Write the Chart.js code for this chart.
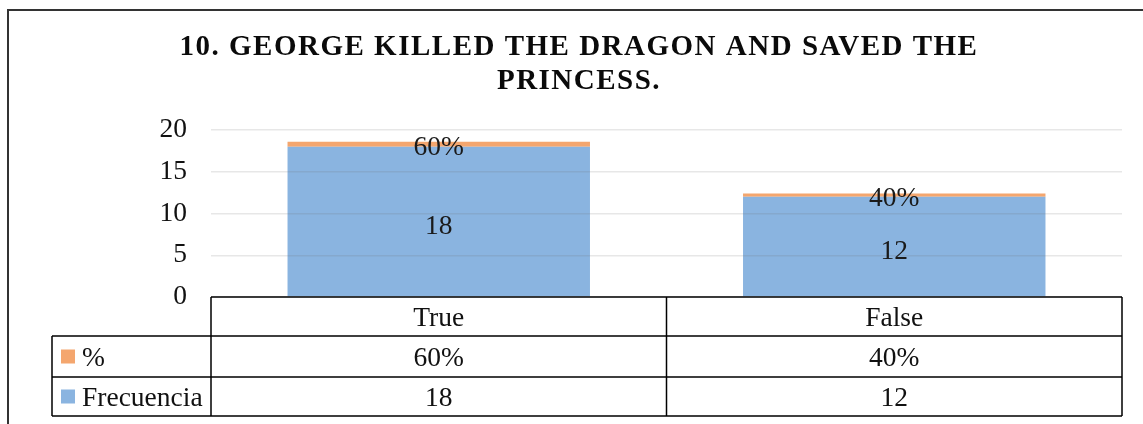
<!DOCTYPE html>
<html>
<head>
<meta charset="utf-8">
<script src="https://cdn.jsdelivr.net/npm/chart.js@4"></script>
<style>
  html, body { margin: 0; padding: 0; background: #fff; }
  #wrap { width: 1143px; height: 424px; }
</style>
</head>
<body>
<div id="wrap"><canvas id="chart" width="1143" height="424"></canvas></div>
<script>
// chart data
const categories = ['True', 'False'];
const frecuencia = [18, 12];
const percent = [0.6, 0.4];
const percentLabels = ['60%', '40%'];
const yTicks = [0, 5, 10, 15, 20];
const titleLines = ['10. GEORGE KILLED THE DRAGON AND SAVED THE', 'PRINCESS.'];

const BLUE = '#8AB4E0';
const ORANGE = '#F4A66E';
const FONT = "'Liberation Serif', 'Times New Roman', serif";
const TEXT_SIZE = 27.5;

// title, labels on bars, data table and frame
const extras = {
  id: 'extras',
  afterDraw(chart) {
    const ctx = chart.ctx;
    const area = chart.chartArea;
    const x = chart.scales.x;
    ctx.save();

    // frame
    ctx.strokeStyle = '#333';
    ctx.lineWidth = 2;
    ctx.beginPath();
    ctx.moveTo(8, 424);
    ctx.lineTo(8, 10);
    ctx.lineTo(1143, 10);
    ctx.stroke();

    // title
    ctx.fillStyle = '#0a0a0a';
    ctx.font = 'bold 29px ' + FONT;
    ctx.letterSpacing = '1.5px';
    ctx.textAlign = 'center';
    ctx.textBaseline = 'middle';
    titleLines.forEach((t, i) => ctx.fillText(t, 579, 48 + i * 34));
    ctx.letterSpacing = '0px';

    // value labels
    ctx.font = TEXT_SIZE + 'px ' + FONT;
    ctx.fillStyle = '#1a1a1a';
    const m0 = chart.getDatasetMeta(0).data;
    const m1 = chart.getDatasetMeta(1).data;
    m0.forEach((bar, i) => {
      ctx.fillText(String(frecuencia[i]), bar.x, (bar.y + bar.base) / 2 + 5);
    });
    m1.forEach((bar, i) => {
      ctx.fillText(percentLabels[i], bar.x, (bar.y + bar.base) / 2 + 4);
    });

    // data table
    const top = area.bottom;
    const rows = [top, 336, 377, 416];
    const colEdges = [area.left, (area.left + area.right) / 2, area.right];
    const labelLeft = 52;
    ctx.strokeStyle = '#000';
    ctx.lineWidth = 1.5;
    ctx.beginPath();
    ctx.moveTo(area.left, rows[0]); ctx.lineTo(area.right, rows[0]);
    for (let r = 1; r < rows.length; r++) {
      ctx.moveTo(labelLeft, rows[r]); ctx.lineTo(area.right, rows[r]);
    }
    ctx.moveTo(labelLeft, rows[1]); ctx.lineTo(labelLeft, rows[3]);
    colEdges.forEach(cx => { ctx.moveTo(cx, rows[0]); ctx.lineTo(cx, rows[3]); });
    ctx.stroke();

    ctx.fillStyle = '#111';
    ctx.textAlign = 'center';
    categories.forEach((c, i) => {
      const cx = x.getPixelForValue(i);
      ctx.fillText(c, cx, (rows[0] + rows[1]) / 2 + 2);
      ctx.fillText(percentLabels[i], cx, (rows[1] + rows[2]) / 2 + 2);
      ctx.fillText(String(frecuencia[i]), cx, (rows[2] + rows[3]) / 2 + 2);
    });

    // row headers with legend keys
    const keys = [['%', ORANGE], ['Frecuencia', BLUE]];
    keys.forEach((k, i) => {
      const cy = (rows[i + 1] + rows[i + 2]) / 2;
      ctx.fillStyle = k[1];
      ctx.fillRect(61, cy - 7, 14, 14);
      ctx.fillStyle = '#111';
      ctx.textAlign = 'left';
      ctx.fillText(k[0], 82, cy + 2);
    });
    ctx.restore();
  }
};

new Chart(document.getElementById('chart'), {
  type: 'bar',
  data: {
    labels: categories,
    datasets: [
      { label: 'Frecuencia', data: frecuencia, backgroundColor: BLUE },
      { label: '%', data: percent, backgroundColor: ORANGE }
    ]
  },
  options: {
    responsive: false,
    animation: false,
    layout: { padding: { top: 130, left: 0, right: 21, bottom: 127 } },
    datasets: { bar: { categoryPercentage: 1, barPercentage: 0.664 } },
    plugins: {
      legend: { display: false },
      title: { display: false },
      tooltip: { enabled: false }
    },
    scales: {
      x: { stacked: true, display: false },
      y: {
        stacked: true,
        min: 0,
        max: 20,
        afterBuildTicks: s => { s.ticks = yTicks.map(v => ({ value: v })); },
        afterFit: s => { s.width = 211; },
        border: { display: false },
        grid: { color: 'rgba(110,110,110,0.17)', lineWidth: 1.5, drawTicks: false, z: 1 },
        ticks: { padding: 24, color: '#111', font: { family: FONT, size: TEXT_SIZE } }
      }
    }
  },
  plugins: [extras]
});
</script>
</body>
</html>
